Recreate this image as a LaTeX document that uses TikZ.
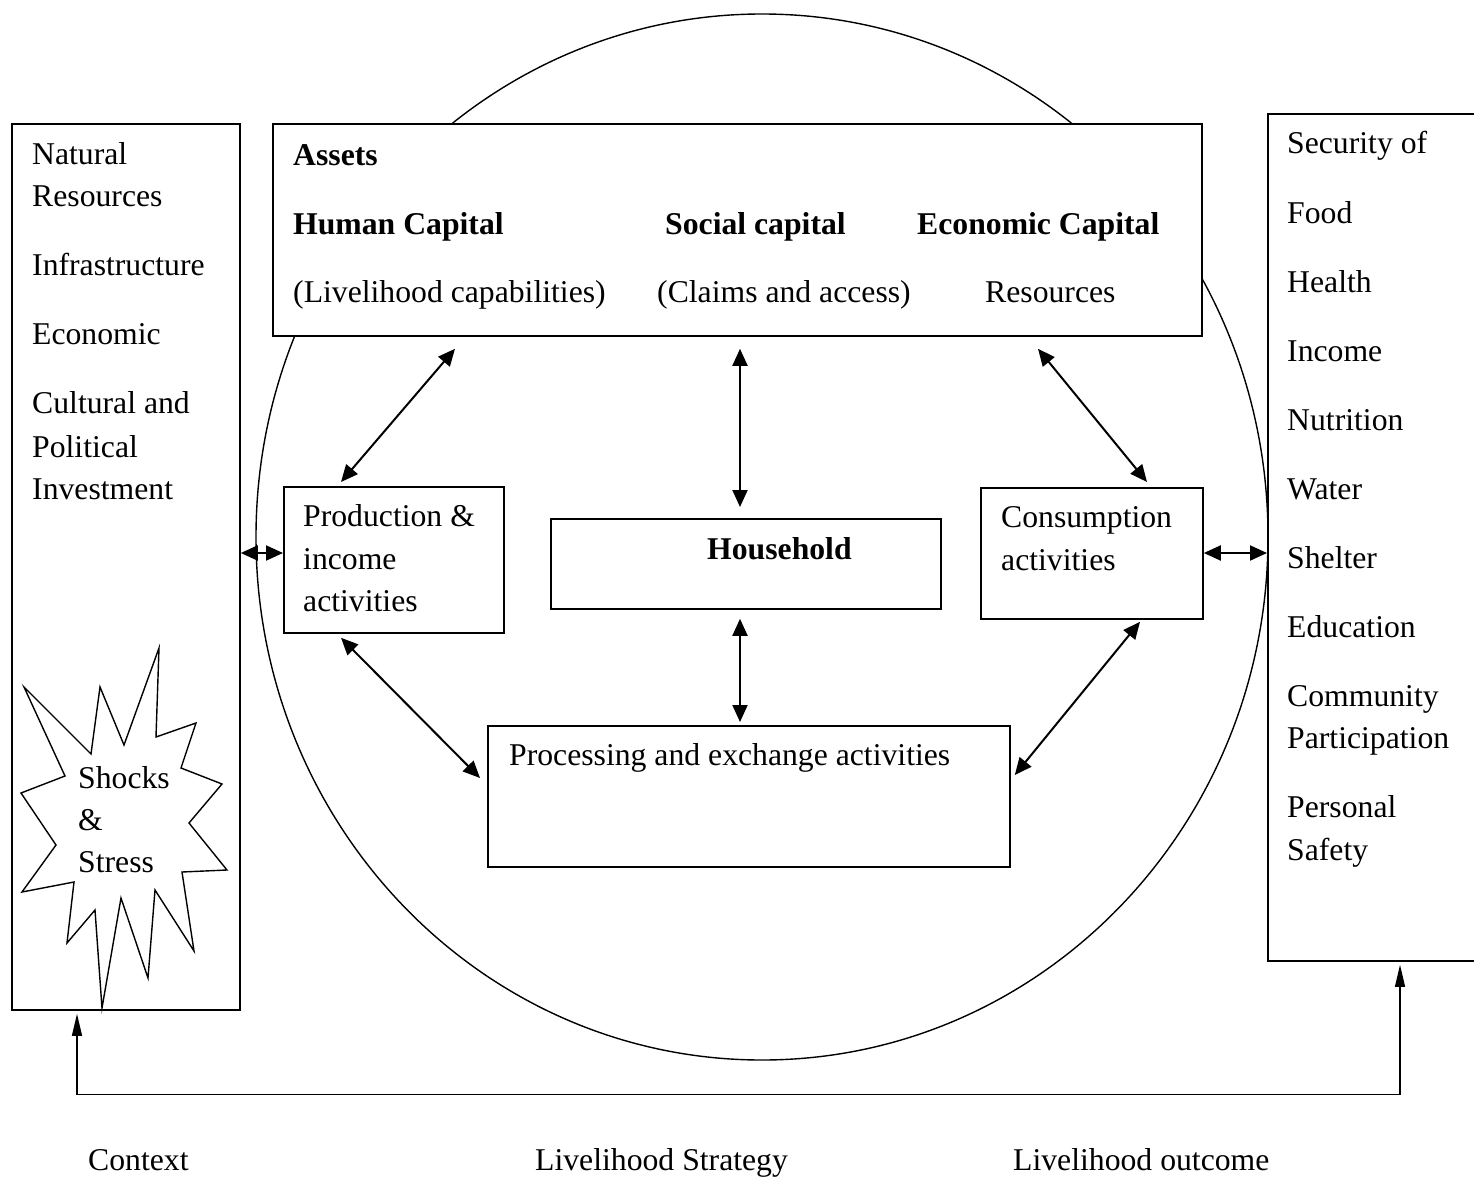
\documentclass[tikz,border=0pt]{standalone}
\usepackage{fontspec}
\setmainfont{Liberation Serif}
\usetikzlibrary{arrows.meta,calc}
\begin{document}
\begin{tikzpicture}[x=1pt,y=-1pt,
  every node/.style={font=\fontsize{31.7}{38}\selectfont},
  box/.style={draw,line width=1.8pt,fill=white,anchor=north west,inner sep=0pt},
  lbl/.style={anchor=base west,inner sep=0pt},
  dbl/.style={line width=2pt,{Triangle[length=17pt,width=15pt]}-{Triangle[length=17pt,width=15pt]},shorten <=0pt,shorten >=0pt},
  fb/.style={line width=1.3pt,{Triangle[length=22pt,width=10pt]}-{Triangle[length=22pt,width=10pt]}}
]
\useasboundingbox (0,0) rectangle (1474,1201);
% ellipse
\draw[line width=1.4pt] (762,537) ellipse [x radius=506, y radius=523];
% boxes
\node[box,minimum width=228pt,minimum height=886pt] (ctx) at (11,123) {};
\node[box,minimum width=929pt,minimum height=212pt] (assets) at (272,123) {};
\node[box,minimum width=240pt,minimum height=847pt] (outc) at (1267,113) {};
\node[box,minimum width=220pt,minimum height=146pt] (prod) at (283,486) {};
\node[box,minimum width=390pt,minimum height=90pt] (hh) at (550,518) {};
\node[box,minimum width=222pt,minimum height=131pt] (cons) at (980,487) {};
\node[box,minimum width=522pt,minimum height=141pt] (proc) at (487,725) {};
% star
\draw[line width=1.4pt,fill=white] (24,687) -- (91,754) -- (100,687) -- (124,745) -- (159,648) -- (156,737) -- (196,723) -- (181,768) -- (222,784) -- (189,823) -- (227,870) -- (182,872) -- (194,951) -- (155,890) -- (148,978) -- (121,898) -- (102,1008) -- (95,910) -- (67,943) -- (74,882) -- (22,892) -- (56,845) -- (21,793) -- (65,776) -- cycle;
% context texts
\node[lbl] (c1) at (32,165) {Natural};
\node[lbl] (c2) at (32,206) {Resources};
\node[lbl] (c3) at (32,275) {Infrastructure};
\node[lbl] (c4) at (32,344) {Economic};
\node[lbl] (c5) at (32,413) {Cultural and};
\node[lbl] (c6) at (32,457) {Political};
\node[lbl] (c7) at (32,499) {Investment};
\node[lbl] (s1) at (78,788) {Shocks};
\node[lbl] (s2) at (78,830) {\&};
\node[lbl] (s3) at (78,872) {Stress};
% outcome texts
\node[lbl] (o1) at (1287,154) {Security of};
\node[lbl] (o2) at (1287,223) {Food};
\node[lbl] (o3) at (1287,292) {Health};
\node[lbl] (o4) at (1287,361) {Income};
\node[lbl] (o5) at (1287,430) {Nutrition};
\node[lbl] (o6) at (1287,499) {Water};
\node[lbl] (o7) at (1287,568) {Shelter};
\node[lbl] (o8) at (1287,637) {Education};
\node[lbl] (o9) at (1287,706) {Community};
\node[lbl] (o10) at (1287,748) {Participation};
\node[lbl] (o11) at (1287,817) {Personal};
\node[lbl] (o12) at (1287,860) {Safety};
% assets texts
\node[lbl,font=\fontsize{31.7}{38}\selectfont\bfseries] (a1) at (293,166) {Assets};
\node[lbl,font=\fontsize{31.7}{38}\selectfont\bfseries] (a2) at (293,234) {Human Capital};
\node[lbl,font=\fontsize{31.7}{38}\selectfont\bfseries] (a3) at (665,234) {Social capital};
\node[lbl,font=\fontsize{31.7}{38}\selectfont\bfseries] (a4) at (917,234) {Economic Capital};
\node[lbl] (a5) at (293,302) {(Livelihood capabilities)};
\node[lbl] (a6) at (657,302) {(Claims and access)};
\node[lbl] (a7) at (985,302) {Resources};
% inner box texts
\node[lbl] (p1) at (303,526) {Production \&};
\node[lbl] (p2) at (303,569) {income};
\node[lbl] (p3) at (303,611) {activities};
\node[lbl,font=\fontsize{31.7}{38}\selectfont\bfseries] (h1) at (707,559) {Household};
\node[lbl] (k1) at (1001,527) {Consumption};
\node[lbl] (k2) at (1001,570) {activities};
\node[lbl] (r1) at (509,765) {Processing and exchange activities};
% bottom labels
\node[lbl] (b1) at (88,1170) {Context};
\node[lbl] (b2) at (535,1170) {Livelihood Strategy};
\node[lbl] (b3) at (1013,1170) {Livelihood outcome};
% connectors
\draw[dbl] ($(ctx.north east)+(0,430)$) -- ($(prod.north west)+(0,67)$);
\draw[dbl] ($(cons.north east)+(0,66)$) -- ($(outc.north west)+(0,440)$);
\draw[dbl] ($(assets.south west)+(183,12)$) -- ($(prod.north west)+(58,-4)$);
\draw[dbl] ($(assets.south west)+(468,12)$) -- ($(hh.north west)+(190,-11)$);
\draw[dbl] ($(assets.south west)+(766,12)$) -- ($(cons.north west)+(167,-5)$);
\draw[dbl] ($(hh.south west)+(190,9)$) -- ($(proc.north west)+(253,-3)$);
\draw[dbl] ($(prod.south west)+(58,4)$) -- ($(proc.north west)+(-7,53)$);
\draw[dbl] ($(cons.south west)+(160,2)$) -- ($(proc.north east)+(4,50)$);
\draw[fb] ($(ctx.south west)+(66,3)$) -- ++(0,81) -| ($(outc.south west)+(133,3)$);
\end{tikzpicture}
\end{document}
